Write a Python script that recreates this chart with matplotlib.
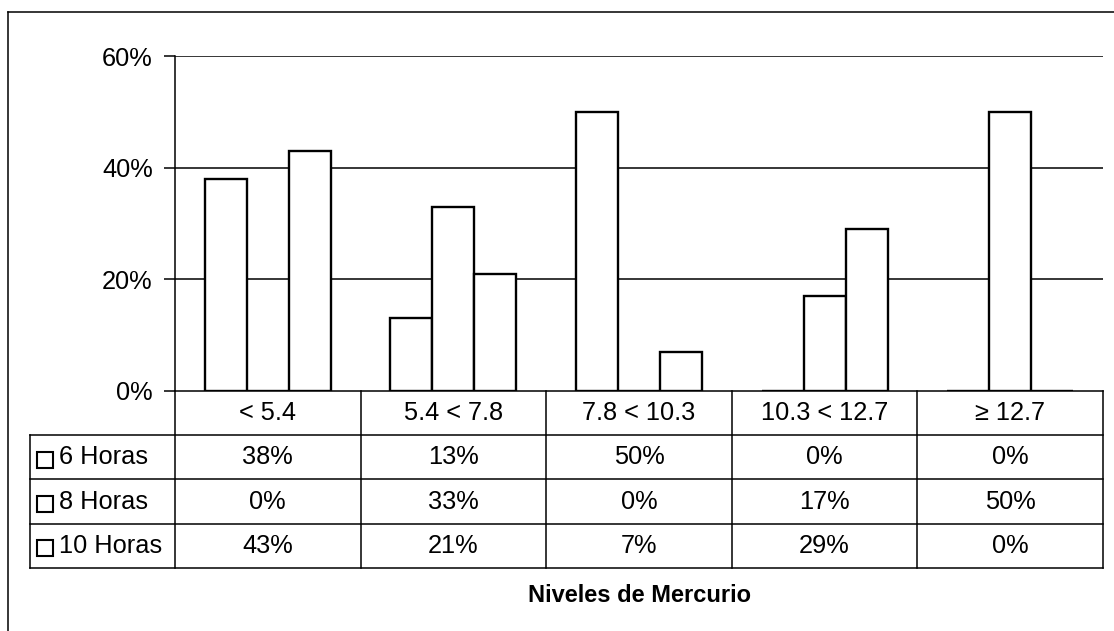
import matplotlib
matplotlib.use("Agg")
import matplotlib.pyplot as plt
from matplotlib.lines import Line2D

# Data: share of samples per mercury level range, by exposure time
categories = ["< 5.4", "5.4 < 7.8", "7.8 < 10.3", "10.3 < 12.7", "\u2265 12.7"]
series_names = ["6 Horas", "8 Horas", "10 Horas"]
horas_6 = [38, 13, 50, 0, 0]
horas_8 = [0, 33, 0, 17, 50]
horas_10 = [43, 21, 7, 29, 0]
y_ticks = [0, 20, 40, 60]
x_title = "Niveles de Mercurio"

series = [horas_6, horas_8, horas_10]

plt.rcParams["font.family"] = ["Liberation Sans", "DejaVu Sans"]
FS = 18.3

W, H = 1114, 631
fig = plt.figure(figsize=(W / 100, H / 100), dpi=100)
fig.patch.set_facecolor("white")

def fx(px):
    return px / W

def fy(py):
    return 1 - py / H

left_px, right_px = 175, 1103
plot_top, plot_bot = 56, 391
table_bot = 568

# Bar chart axes
ax = fig.add_axes([fx(left_px), fy(plot_bot), fx(right_px - left_px),
                   (plot_bot - plot_top) / H])
n = len(categories)
bw = 0.226
offsets = [-bw, 0, bw]
for vals, off in zip(series, offsets):
    ax.bar([i + off for i in range(n)], vals, width=bw, color="white",
           edgecolor="black", linewidth=1.7, zorder=3)

ax.set_xlim(-0.5, n - 0.5)
ax.set_ylim(0, 60)
ax.set_yticks(y_ticks)
ax.set_yticklabels([f"{t}%" for t in y_ticks], fontsize=FS)
ax.set_xticks([])
for t in y_ticks[1:]:
    ax.axhline(t, color="black", linewidth=1.1, zorder=1)
for s in ["top", "right", "bottom"]:
    ax.spines[s].set_visible(False)
ax.spines["left"].set_linewidth(1.1)
ax.tick_params(axis="y", length=8, width=1.1, pad=8, direction="out")
ax.patch.set_alpha(0)

# Data table beneath the chart, sharing the category axis
tab = fig.add_axes([fx(left_px), fy(table_bot), fx(right_px - left_px),
                    (table_bot - plot_bot) / H])
tab.set_xlim(-0.5, n - 0.5)
nrows = len(series) + 1
tab.set_ylim(nrows, 0)
tab.axis("off")

lw = 1.1
px_unit = (right_px - left_px) / n
legend_left = -0.5 - (left_px - 30) / px_unit
# horizontal rules
tab.plot([-0.5, n - 0.5], [0, 0], color="black", lw=lw, clip_on=False)
for r in range(1, nrows + 1):
    tab.plot([legend_left, n - 0.5], [r, r], color="black", lw=lw, clip_on=False)
# vertical rules
for c in range(n + 1):
    tab.plot([c - 0.5, c - 0.5], [0, nrows], color="black", lw=lw, clip_on=False)
tab.plot([legend_left, legend_left], [1, nrows], color="black", lw=lw, clip_on=False)

# header row with category names
for i, cat in enumerate(categories):
    tab.text(i, 0.5, cat, ha="center", va="center", fontsize=FS)

# series rows with legend keys
for r, (name, vals) in enumerate(zip(series_names, series), start=1):
    tab.plot([legend_left + 15 / px_unit], [r + 0.55], marker="s", ms=11.5,
             mfc="white", mec="black", mew=1.5, clip_on=False)
    tab.text(legend_left + 29 / px_unit, r + 0.5, name, ha="left", va="center",
             fontsize=FS, clip_on=False)
    for i, v in enumerate(vals):
        tab.text(i, r + 0.5, f"{v}%", ha="center", va="center", fontsize=FS)

fig.text(fx((left_px + right_px) / 2), fy(595), x_title, ha="center",
         va="center", fontsize=17, fontweight="bold")

# frame lines around the figure
fig.add_artist(Line2D([fx(8), fx(8)], [fy(12), 0], color="black", lw=1.1))
fig.add_artist(Line2D([fx(8), 1], [fy(12), fy(12)], color="black", lw=1.1))

fig.savefig("out.png", dpi=100, facecolor="white")
